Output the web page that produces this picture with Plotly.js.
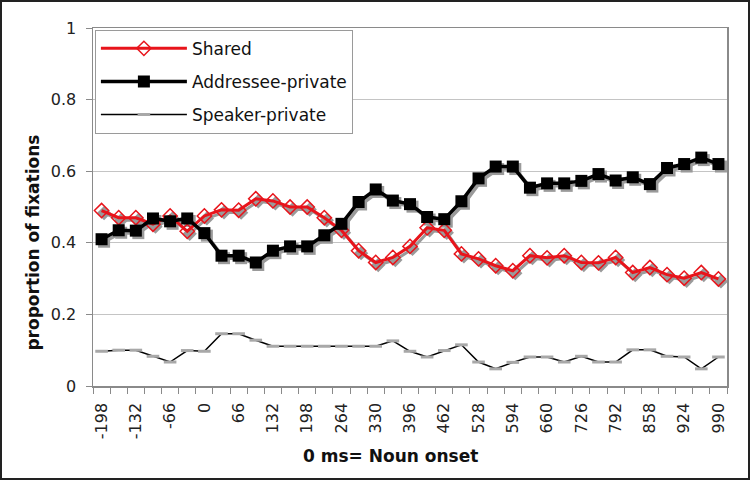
<!DOCTYPE html>
<html><head><meta charset="utf-8">
<script src="https://cdn.plot.ly/plotly-3.0.1.min.js"></script>
<style>
html,body{margin:0;padding:0;background:#fff}
#wrap{position:relative;width:750px;height:480px}
#frame{position:absolute;left:0;top:0;width:750px;height:480px;box-sizing:border-box;border:2px solid #222;pointer-events:none}
</style>
</head><body>
<div id="wrap"><div id="chart" style="width:750px;height:480px"></div><div id="frame"></div></div>
<script>
const timeMs = [-198,-165,-132,-99,-66,-33,0,33,66,99,132,165,198,231,264,297,330,363,396,429,462,495,528,561,594,627,660,693,726,759,792,825,858,891,924,957,990];
const shared = [0.49,0.47,0.47,0.452,0.475,0.432,0.475,0.492,0.491,0.523,0.517,0.50,0.50,0.47,0.435,0.378,0.345,0.359,0.39,0.442,0.435,0.369,0.355,0.336,0.322,0.364,0.358,0.364,0.345,0.344,0.359,0.317,0.331,0.311,0.301,0.317,0.299];
const addressee = [0.41,0.435,0.434,0.468,0.46,0.468,0.427,0.364,0.364,0.345,0.378,0.39,0.39,0.421,0.453,0.514,0.549,0.518,0.508,0.472,0.466,0.516,0.58,0.613,0.613,0.554,0.566,0.566,0.573,0.592,0.574,0.583,0.564,0.609,0.62,0.638,0.62];
const speaker = [0.097,0.1,0.1,0.083,0.067,0.099,0.097,0.146,0.146,0.128,0.111,0.111,0.111,0.111,0.111,0.111,0.111,0.126,0.097,0.081,0.099,0.115,0.067,0.048,0.066,0.081,0.081,0.067,0.083,0.067,0.067,0.101,0.101,0.083,0.081,0.048,0.081];
const tickLabels = [-198,-132,-66,0,66,132,198,264,330,396,462,528,594,660,726,792,858,924,990];
const seriesNames = ['Shared','Addressee-private','Speaker-private'];
const xTitle = '0 ms= Noun onset';
const yTitle = 'proportion of fixations';

const step = 33;
const xRange = [timeMs[0]-step/2, timeMs[timeMs.length-1]+step/2];
const plotW = 750-93-23, plotH = 480-28-94;
const ux = (xRange[1]-xRange[0])/plotW, uy = 1/plotH;
const sh = 2.5;
const shadowColor = '#9a9a9a';

const traces = [
  {x:[], y:[], mode:'lines', showlegend:false, hoverinfo:'skip'},
  {x:timeMs, y:shared, xaxis:'x2', yaxis:'y2', mode:'lines+markers', showlegend:false, hoverinfo:'skip',
   line:{color:shadowColor,width:3}, marker:{symbol:'diamond',size:11,color:shadowColor}},
  {x:timeMs, y:addressee, xaxis:'x2', yaxis:'y2', mode:'lines+markers', showlegend:false, hoverinfo:'skip',
   line:{color:shadowColor,width:3.5}, marker:{symbol:'square',size:12,color:shadowColor}},
  {x:timeMs, y:shared, xaxis:'x3', yaxis:'y3', name:seriesNames[0], mode:'lines+markers', legendgroup:'a',
   line:{color:'#e8141b',width:3}, marker:{symbol:'diamond-open',size:11,color:'#e8141b',line:{width:1.5,color:'#e8141b'}}},
  {x:timeMs, y:addressee, xaxis:'x3', yaxis:'y3', name:seriesNames[1], mode:'lines+markers', legendgroup:'b',
   line:{color:'#000',width:3.5}, marker:{symbol:'square',size:12,color:'#000'}},
  {x:timeMs, y:speaker, xaxis:'x3', yaxis:'y3', name:seriesNames[2], mode:'lines+markers', legendgroup:'c',
   line:{color:'#000',width:1.5}, marker:{symbol:'line-ew',size:9,color:'#a8a8a8',line:{width:3,color:'#a8a8a8'}}}
];

const layout = {
  width:750, height:480,
  margin:{l:93, r:23, t:28, b:94},
  paper_bgcolor:'#fff', plot_bgcolor:'#fff',
  font:{family:'DejaVu Sans, Verdana, sans-serif', size:16, color:'#222'},
  showlegend:true,
  legend:{x:0.003, y:0.995, xanchor:'left', yanchor:'top', bgcolor:'#fff', bordercolor:'#9a9a9a', borderwidth:1,
    font:{size:17, color:'#111'}, itemwidth:86, tracegroupgap:8, traceorder:'grouped'},
  xaxis:{type:'linear', range:xRange, tickmode:'array', tickvals:tickLabels, ticktext:tickLabels.map(String),
    tickangle:-90, ticks:'', showgrid:false, zeroline:false, showline:true, mirror:true, linecolor:'#8a8a8a', linewidth:1.5,
    ticklabelstandoff:9, tickfont:{size:16, color:'#222'},
    minor:{tickmode:'linear', tick0:xRange[0], dtick:step, ticks:'outside', ticklen:6, tickcolor:'#8a8a8a', tickwidth:1, showgrid:false}},
  yaxis:{range:[0,1], dtick:0.2, ticks:'outside', ticklen:6, tickcolor:'#8a8a8a', showgrid:true, gridcolor:'#c4c4c4', gridwidth:1,
    zeroline:false, showline:true, mirror:true, linecolor:'#8a8a8a', linewidth:1.5, ticklabelstandoff:6, tickfont:{size:16,color:'#222'}},
  xaxis2:{overlaying:'x', range:[xRange[0]-sh*ux, xRange[1]-sh*ux], visible:false},
  yaxis2:{overlaying:'y', range:[sh*uy, 1+sh*uy], visible:false},
  xaxis3:{overlaying:'x', range:xRange, visible:false},
  yaxis3:{overlaying:'y', range:[0,1], visible:false},
  annotations:[
    {text:xTitle, xref:'paper', yref:'paper', x:0.47, y:-0.196, xanchor:'center', yanchor:'middle', showarrow:false,
     font:{family:'DejaVu Sans, sans-serif', size:17, color:'#111', weight:'bold'}},
    {text:yTitle, xref:'paper', yref:'paper', x:-0.095, y:0.40, xanchor:'center', yanchor:'middle', textangle:-90, showarrow:false,
     font:{family:'DejaVu Sans, sans-serif', size:17, color:'#111', weight:'bold'}}
  ]
};
Plotly.newPlot('chart', traces, layout, {displayModeBar:false, staticPlot:true});
</script>
</body></html>
